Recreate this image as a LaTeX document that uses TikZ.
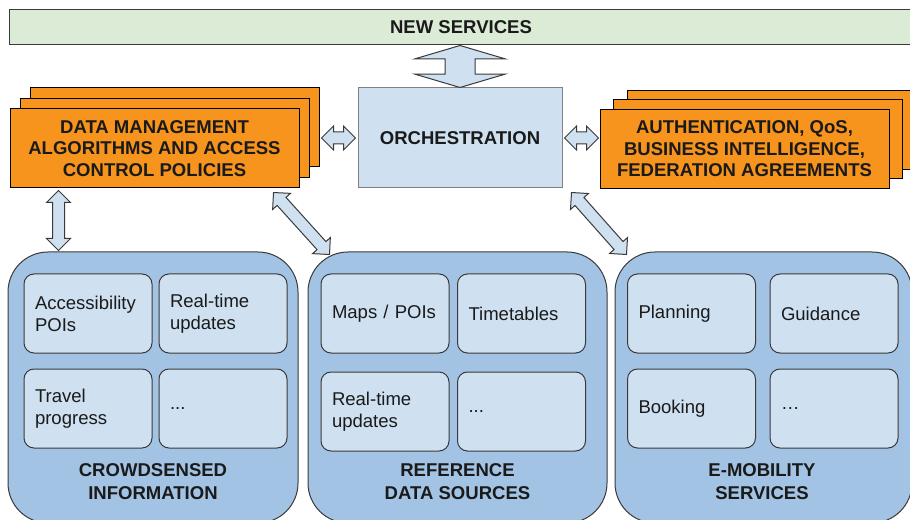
\documentclass[tikz,border=0pt]{standalone}
\usepackage{fontspec}
\setmainfont{Liberation Sans}
\usetikzlibrary{calc,shapes.arrows,shadows}

\definecolor{servgreen}{HTML}{DBEBD5}
\definecolor{mgmtorange}{HTML}{F6941E}
\definecolor{lightblue}{HTML}{CFE0F1}
\definecolor{panelblue}{HTML}{A3C3E4}
\definecolor{edgegray}{HTML}{3A3A3A}
\definecolor{inkgray}{HTML}{1A1A1A}

\tikzset{every picture/.style={line width=0.75pt}}
\tikzset{
  bigtext/.style={font=\fontsize{13.9}{16.1}\selectfont\bfseries, text=inkgray},
  topbar/.style={bigtext, draw=edgegray, fill=servgreen, minimum width=678pt, minimum height=26.25pt, inner sep=0pt},
  orchbox/.style={bigtext, draw=gray, fill=lightblue, minimum width=153pt, minimum height=75pt, inner sep=0pt},
  stack/.style={bigtext, draw=black, fill=mgmtorange, minimum width=216.75pt, minimum height=59.25pt, inner sep=0pt, align=center},
  panel/.style={draw=edgegray, fill=panelblue, rounded corners=30pt, minimum height=203.25pt, inner sep=0pt},
  item/.style={draw=edgegray, fill=lightblue, rounded corners=7.5pt, minimum height=59.25pt, text width=79.5pt, inner xsep=8.25pt, align=left, font=\fontsize{13.9}{16.5}\selectfont, text=inkgray},
  ptitle/.style={align=center, font=\fontsize{13.9}{17.25}\selectfont\bfseries, text=inkgray},
  link/.style={shape=double arrow, draw=edgegray, fill=lightblue, inner xsep=0pt, inner ysep=4.125pt, double arrow head extend=4.5pt, double arrow tip angle=90},
  biglink/.style={link, inner ysep=10.875pt, double arrow head extend=22.5pt, double arrow tip angle=147},
}

% block double arrow between two named points
\newcommand\linkup[4][link]{%
  \path let \p1=($(#4)-(#3)$) in
    node[#1, minimum height={veclen(\x1,\y1)}, rotate={atan2(-\y1,\x1)}] (#2) at ($(#3)!0.5!(#4)$) {};
}

\begin{document}
\begin{tikzpicture}[x=0.75pt,y=0.75pt,yscale=-1,xscale=1]
\useasboundingbox (0,0) rectangle (910,520);

% top bar
\node[topbar] (newsrv) at (461,27.5) {NEW SERVICES};

% middle row
\node[stack, copy shadow={shadow xshift=15pt, shadow yshift=15.75pt, fill=mgmtorange, draw=black},
  copy shadow={shadow xshift=7.5pt, shadow yshift=7.875pt, fill=mgmtorange, draw=black}]
  (dm) at (154.5,148.5) {DATA MANAGEMENT\\ALGORITHMS AND ACCESS\\CONTROL POLICIES};
\node[orchbox] (orch) at (460,138) {ORCHESTRATION};
\node[stack, copy shadow={shadow xshift=20.25pt, shadow yshift=14.25pt, fill=mgmtorange, draw=black},
  copy shadow={shadow xshift=10.125pt, shadow yshift=7.125pt, fill=mgmtorange, draw=black}]
  (auth) at (744.5,149) {AUTHENTICATION, QoS,\\BUSINESS INTELLIGENCE,\\FEDERATION AGREEMENTS};

% bottom panels
\node[panel, minimum width=217.5pt] (crowd) at (153,387.5) {};
\node[panel, minimum width=224.25pt] (refdata) at (457.5,387.5) {};
\node[panel, minimum width=222.75pt] (emob) at (763.5,387.5) {};

\node[item] (access) at (88,313.5) {Accessibility\\POIs};
\node[item] (rtcrowd) at (223,313.5) {Real-time\\updates};
\node[item] (travel) at (88,408.5) {Travel\\progress};
\node[item] (morecrowd) at (223,408.5) {...};
\node[item] (maps) at (385,313.5) {Maps / POIs};
\node[item] (timetab) at (521.5,313.5) {Timetables};
\node[item] (rtref) at (385,411.5) {Real-time\\updates};
\node[item] (moreref) at (521.5,411.5) {...};
\node[item] (plan) at (691.5,313.5) {Planning};
\node[item] (guide) at (834,313.5) {Guidance};
\node[item] (book) at (691.5,408.5) {Booking};
\node[item] (moremob) at (834,408.5) {…};

\node[ptitle] (crowdtitle) at (153,481.5) {CROWDSENSED\\INFORMATION};
\node[ptitle] (reftitle) at (457.5,481.5) {REFERENCE\\DATA SOURCES};
\node[ptitle] (emobtitle) at (762,481.5) {E-MOBILITY\\SERVICES};

% arrow ends
\coordinate (srvfoot) at (orch.north |- newsrv.south);
\coordinate (dmright) at ($(orch.west)+(-36,0)$);
\coordinate (orchleft) at ($(orch.west)+(-2,0)$);
\coordinate (orchright) at ($(orch.east)+(2,0)$);
\coordinate (authleft) at ($(orch.east)+(36,0)$);
\coordinate (dmfoot) at ($(dm.south west)+(49,2)$);
\coordinate (crowdtop) at ($(crowd.north west)+(51,-1)$);
\coordinate (dmcorner) at ($(dm.south east)+(-26,4)$);
\coordinate (reftop) at ($(refdata.north west)+(22,3)$);
\coordinate (orchcorner) at ($(orch.south east)+(9,4)$);
\coordinate (emobtop) at ($(emob.north west)+(12,3)$);

% links
\linkup[biglink]{srvlink}{srvfoot}{orch.north}
\linkup{dmlink}{dmright}{orchleft}
\linkup{authlink}{orchright}{authleft}
\linkup{crowdlink}{dmfoot}{crowdtop}
\linkup{reflink}{dmcorner}{reftop}
\linkup{emoblink}{orchcorner}{emobtop}

\end{tikzpicture}
\end{document}
